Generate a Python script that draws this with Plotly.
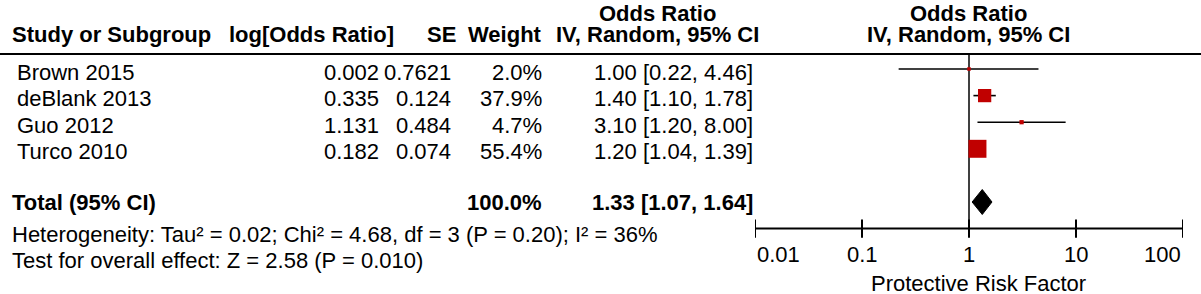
import math
import plotly.graph_objects as go

# ---------------- data ----------------
studies = ["Brown 2015", "deBlank 2013", "Guo 2012", "Turco 2010"]
log_or = ["0.002", "0.335", "1.131", "0.182"]
se = ["0.7621", "0.124", "0.484", "0.074"]
weights = [2.0, 37.9, 4.7, 55.4]
or_est = [1.00, 1.40, 3.10, 1.20]
or_lo = [0.22, 1.10, 1.20, 1.04]
or_hi = [4.46, 1.78, 8.00, 1.39]
total_est, total_lo, total_hi = 1.33, 1.07, 1.64
total_weight = "100.0%"
heterogeneity = "Heterogeneity: Tau² = 0.02; Chi² = 4.68, df = 3 (P = 0.20); I² = 36%"
overall = "Test for overall effect: Z = 2.58 (P = 0.010)"
tick_vals = [0.01, 0.1, 1, 10, 100]
tick_labels = ["0.01", "0.1", "1", "10", "100"]
axis_title = "Protective Risk Factor"
headers = ["Study or Subgroup", "log[Odds Ratio]", "SE", "Weight"]
or_header = ["Odds Ratio", "IV, Random, 95% CI"]

# ---------------- layout helpers ----------------
W, H = 1201, 294
FONT = "Liberation Sans, Arial, Helvetica, sans-serif"
FS = 22
RED = "#C00000"
ROW0, UNIT = 69.0, 26.6          # pixel of row 0, pixels per row
def px(x):
    return x / W
def row_of(pixel):
    return (pixel - ROW0) / UNIT

fig = go.Figure()

n = len(studies)
rows = list(range(n))
total_row = n + 1
axis_row = n + 2

# whiskers
wx, wy = [], []
for i in rows:
    wx += [or_lo[i], or_hi[i], None]
    wy += [i, i, None]
fig.add_trace(go.Scatter(x=wx, y=wy, mode="lines",
                         line=dict(color="black", width=1.6), hoverinfo="skip"))

# reference line at OR = 1
fig.add_trace(go.Scatter(x=[1, 1], y=[row_of(54), axis_row + 0.2], mode="lines",
                         line=dict(color="black", width=1.5), hoverinfo="skip"))

# squares
fig.add_trace(go.Scatter(x=or_est, y=rows, mode="markers", opacity=1,
                         marker=dict(symbol="square", color=RED, opacity=1,
                                     size=[3 + 0.27 * w for w in weights],
                                     line=dict(width=0)),
                         hoverinfo="skip"))

# diamond
h = 0.47
fig.add_trace(go.Scatter(x=[total_lo, total_est, total_hi, total_est, total_lo],
                         y=[total_row, total_row - h, total_row, total_row + h, total_row],
                         mode="lines", fill="toself", fillcolor="black",
                         line=dict(color="black", width=1), hoverinfo="skip"))

# bottom axis
fig.add_trace(go.Scatter(x=[tick_vals[0], tick_vals[-1]], y=[axis_row, axis_row],
                         mode="lines", line=dict(color="black", width=2), hoverinfo="skip"))
fig.add_trace(go.Scatter(x=tick_vals, y=[axis_row] * len(tick_vals), mode="markers",
                         marker=dict(symbol="line-ns", size=13,
                                     line=dict(color="black", width=2)),
                         hoverinfo="skip"))

ann = []
def text(x, y, t, anchor="left", bold=False, xref="paper", size=FS, yshift=0):
    if xref == "paper":
        # compensate for the annotation's inner padding
        if anchor == "right":
            x += px(3)
        elif anchor == "left":
            x -= px(2)
    ann.append(dict(x=x, y=y, xref=xref, yref="y", text=f"<b>{t}</b>" if bold else t,
                    showarrow=False, xanchor=anchor, yanchor="middle", yshift=yshift,
                    font=dict(family=FONT, size=size, color="black")))

# headers
HR1, HR2 = row_of(13), row_of(34)
text(px(12), HR2, headers[0], "left", True)
text(px(393), HR2, headers[1], "right", True)
text(px(455), HR2, headers[2], "right", True)
text(px(541), HR2, headers[3], "right", True)
text(px(657), HR1, or_header[0], "center", True)
text(px(657), HR2, or_header[1], "center", True)
text(px(968), HR1, or_header[0], "center", True)
text(px(968), HR2, or_header[1], "center", True)

# study rows
for i in rows:
    text(px(17), i, studies[i], "left", yshift=-3)
    text(px(378), i, log_or[i], "right", yshift=-3)
    text(px(450), i, se[i], "right", yshift=-3)
    text(px(541), i, f"{weights[i]:.1f}%", "right", yshift=-3)
    text(px(752), i, f"{or_est[i]:.2f} [{or_lo[i]:.2f}, {or_hi[i]:.2f}]", "right", yshift=-3)

# total
text(px(12), total_row, "Total (95% CI)", "left", True)
text(px(541), total_row, total_weight, "right", True)
text(px(752), total_row, f"{total_est:.2f} [{total_lo:.2f}, {total_hi:.2f}]", "right", True)

# footer
text(px(12), row_of(234), heterogeneity, "left")
text(px(12), row_of(260), overall, "left")

# tick labels
for k, (v, lab) in enumerate(zip(tick_vals, tick_labels)):
    anchor = "left" if k == 0 else ("right" if k == len(tick_vals) - 1 else "center")
    text(math.log10(v), row_of(254), lab, anchor, xref="x")
text(px(978), row_of(283), axis_title, "center")

fig.update_layout(
    width=W, height=H, margin=dict(l=0, r=0, t=0, b=0),
    paper_bgcolor="white", plot_bgcolor="white", showlegend=False,
    annotations=ann,
    shapes=[dict(type="line", xref="paper", yref="y", x0=0, x1=1,
                 y0=row_of(54), y1=row_of(54),
                 line=dict(color="black", width=2))],
    xaxis=dict(type="log", range=[-2, 2], domain=[px(755), px(1183)], visible=False),
    yaxis=dict(range=[(H - ROW0) / UNIT, -ROW0 / UNIT], domain=[0, 1], visible=False),
)

fig.write_html("out.html", config={"displayModeBar": False},
               post_script="document.body.style.margin='0';")
